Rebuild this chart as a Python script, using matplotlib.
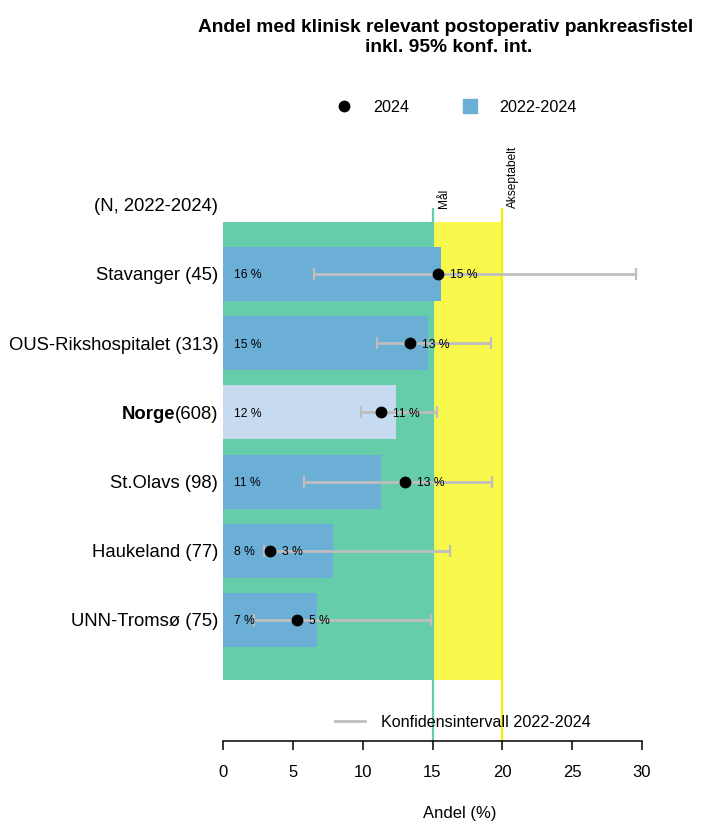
import matplotlib
matplotlib.use('Agg')
import matplotlib.pyplot as plt
from matplotlib.lines import Line2D

plt.rcParams['font.family'] = ['Liberation Sans', 'DejaVu Sans']

# ---------------- data ----------------
units = ['Stavanger', 'OUS-Rikshospitalet', 'Norge', 'St.Olavs', 'Haukeland', 'UNN-Tromsø']
n_total = [45, 313, 608, 98, 77, 75]
andel_3yr = [15.6, 14.7, 12.4, 11.3, 7.9, 6.7]      # 2022-2024
andel_2024 = [15.4, 13.4, 11.3, 13.0, 3.4, 5.3]     # 2024
ci_low = [6.5, 11.0, 9.9, 5.8, 2.9, 2.2]
ci_high = [29.6, 19.2, 15.3, 19.25, 16.25, 14.9]
target_goal = 15
target_acceptable = 20
xticks = [0, 5, 10, 15, 20, 25, 30]
title_lines = ['Andel med klinisk relevant postoperativ pankreasfistel', 'inkl. 95% konf. int.']
national = 'Norge'

# ---------------- style ----------------
c_green = '#66CDAA'
c_yellow = '#F8F84C'
c_yellow_line = '#F2F200'
c_blue = '#6BAED6'
c_light = '#C6DBEF'
c_ci = '#BEBEBE'

W, H = 723, 822
fig = plt.figure(figsize=(W / 100, H / 100), dpi=100)

row0, step = 274, 69.2
top_px, bot_px = 140, 741
ax = fig.add_axes([223 / W, 1 - bot_px / H, (642 - 223) / W, (bot_px - top_px) / H])
ax.set_xlim(0, 30)
ax.set_ylim((bot_px - row0) / step, (top_px - row0) / step)
ymin_lim = (bot_px - row0) / step

ypos = list(range(len(units)))

# target background
ax.fill_betweenx([-0.75, len(units) - 1 + 0.87], 0, target_goal, color=c_green, lw=0, zorder=1)
ax.fill_betweenx([-0.75, len(units) - 1 + 0.87], target_goal, target_acceptable, color=c_yellow, lw=0, zorder=1)
ax.vlines(target_goal, -0.955, ymin_lim, color=c_green, lw=1.6, zorder=1.5)
ax.vlines(target_acceptable, -0.955, ymin_lim, color=c_yellow_line, lw=1.6, zorder=1.5)
ax.annotate('Mål', xy=(target_goal, -0.955), xytext=(8, 0), textcoords='offset points',
            rotation=90, ha='center', va='bottom', fontsize=8.6)
ax.annotate('Akseptabelt', xy=(target_acceptable, -0.955), xytext=(8, 0), textcoords='offset points',
            rotation=90, ha='center', va='bottom', fontsize=8.6)

# bars
colors = [c_light if u == national else c_blue for u in units]
ax.barh(ypos, andel_3yr, height=0.78, color=colors, lw=0, zorder=2)

# confidence intervals
xerr = [[a - l for a, l in zip(andel_3yr, ci_low)], [h - a for a, h in zip(andel_3yr, ci_high)]]
ax.errorbar(andel_3yr, ypos, xerr=xerr, fmt='none', ecolor=c_ci, elinewidth=2, capsize=4.3,
            capthick=1.6, zorder=3)

# 2024 points
ax.plot(andel_2024, ypos, 'o', color='black', ms=7.5, zorder=4)

# value labels
for y, v3, v1 in zip(ypos, andel_3yr, andel_2024):
    ax.text(0.8, y, f'{round(v3)} %', va='center_baseline', ha='left', fontsize=8.7, zorder=5)
    ax.annotate(f'{round(v1)} %', xy=(v1, y), xytext=(8.6, 0), textcoords='offset points',
                va='center_baseline', ha='left', fontsize=8.7, zorder=5)

# y labels
lab_fs = 13.3
for y, u, n in zip(ypos, units, n_total):
    if u == national:
        t = ax.annotate(f'({n})', xy=(0, y), xytext=(-3.4, 0), textcoords='offset points',
                        ha='right', va='center_baseline', fontsize=lab_fs, annotation_clip=False)
        ax.annotate(u, xy=(0, 0.5), xycoords=t, ha='right', va='center', fontsize=lab_fs,
                    fontweight='bold', annotation_clip=False)
    else:
        ax.annotate(f'{u} ({n})', xy=(0, y), xytext=(-3.4, 0), textcoords='offset points',
                    ha='right', va='center_baseline', fontsize=lab_fs, annotation_clip=False)
ax.annotate('(N, 2022-2024)', xy=(0, -1.0), xytext=(-3.4, 0), textcoords='offset points',
            ha='right', va='center_baseline', fontsize=lab_fs, annotation_clip=False)

# axes
for s in ['top', 'right', 'left']:
    ax.spines[s].set_visible(False)
ax.spines['bottom'].set_bounds(0, 30)
ax.spines['bottom'].set_linewidth(1.1)
ax.set_yticks([])
ax.set_xticks(xticks)
ax.set_xticklabels([str(t) for t in xticks])
ax.tick_params(axis='x', direction='out', length=6.5, width=1.1, pad=11, labelsize=12)

fig.text(460 / W, 1 - 813 / H, 'Andel (%)', ha='center', va='center', fontsize=12)

# titles
fig.text(446 / W, 1 - 32 / H, title_lines[0], ha='center', va='baseline', fontsize=13.8, fontweight='bold')
fig.text(449 / W, 1 - 52 / H, title_lines[1], ha='center', va='baseline', fontsize=13.8, fontweight='bold')

# legends
h1 = Line2D([], [], marker='o', ls='none', color='black', ms=7.5)
h2 = Line2D([], [], marker='s', ls='none', color=c_blue, ms=9.4)
fig.legend([h1, h2], ['2024', '2022-2024'], loc='center', bbox_to_anchor=(452 / W, 1 - 107 / H),
           ncol=2, frameon=False, fontsize=11.6, columnspacing=2.8, handletextpad=0.8)
h3 = Line2D([], [], color=c_ci, lw=2)
fig.legend([h3], ['Konfidensintervall 2022-2024'], loc='center', bbox_to_anchor=(463 / W, 1 - 722 / H),
           frameon=False, fontsize=11.6, handlelength=1.86, handletextpad=1.0)

fig.savefig('out.png', dpi=100)
